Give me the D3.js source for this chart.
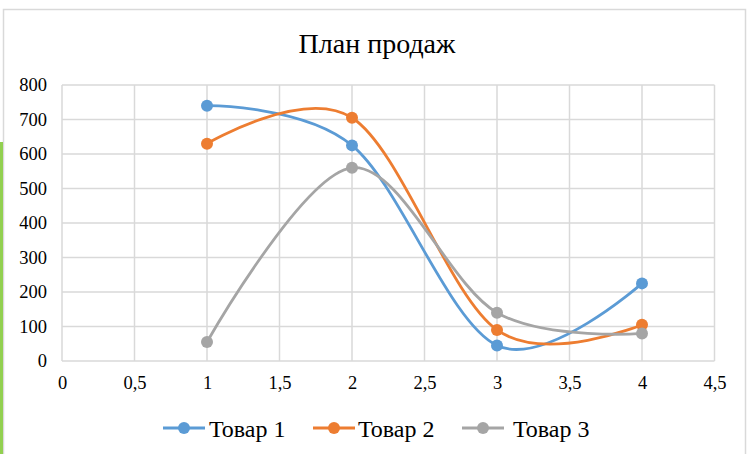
<!DOCTYPE html>
<html lang="ru">
<head>
<meta charset="UTF-8">
<title>План продаж</title>
<style>
  body { margin: 0; background: #fff; }
  svg { display: block; }
  svg text { font-family: "Liberation Serif", "Times New Roman", serif !important; fill: #000; }
</style>
</head>
<body>
<svg id="chart" width="748" height="454"></svg>
<script src="https://cdn.jsdelivr.net/npm/d3@7"></script>
<script>
// data
const xValues = [1, 2, 3, 4];
const seriesNames = ['Товар 1', 'Товар 2', 'Товар 3'];
const tovar1 = [740, 625, 45, 225];
const tovar2 = [630, 705, 90, 105];
const tovar3 = [55, 560, 140, 80];
const colors = ['#5B9BD5', '#ED7D31', '#A5A5A5'];
const xTicks = [0, 0.5, 1, 1.5, 2, 2.5, 3, 3.5, 4, 4.5];
const yTicks = [0, 100, 200, 300, 400, 500, 600, 700, 800];

const seriesValues = [tovar1, tovar2, tovar3];

const svg = d3.select('#chart');

// outer frame + green stripe at the left
svg.append('rect')
  .attr('x', 3.5).attr('y', 9.5).attr('width', 742).attr('height', 450)
  .attr('fill', '#fff').attr('stroke', '#d9d9d9').attr('stroke-width', 1.5);
svg.append('rect')
  .attr('x', 0).attr('y', 142).attr('width', 3).attr('height', 312)
  .attr('fill', '#92D050');

const x = d3.scaleLinear().domain([0, 4.5]).range([62, 714.5]);
const y = d3.scaleLinear().domain([0, 800]).range([361, 85]);

const fmt = d => String(d).replace('.', ',');

// grid
svg.append('g').selectAll('line.h')
  .data(yTicks).join('line')
  .attr('x1', x(0)).attr('x2', x(4.5))
  .attr('y1', d => y(d)).attr('y2', d => y(d))
  .attr('stroke', '#d9d9d9').attr('stroke-width', 1.5);
svg.append('g').selectAll('line.v')
  .data(xTicks).join('line')
  .attr('x1', d => x(d)).attr('x2', d => x(d))
  .attr('y1', y(0)).attr('y2', y(800))
  .attr('stroke', '#d9d9d9').attr('stroke-width', 1.5);

// axes built with d3 then restyled
const yAxis = svg.append('g')
  .attr('transform', `translate(${x(0)},0)`)
  .call(d3.axisLeft(y).tickValues(yTicks).tickSize(0).tickPadding(15));
const xAxis = svg.append('g')
  .attr('transform', `translate(0,${y(0)})`)
  .call(d3.axisBottom(x).tickValues(xTicks).tickFormat(fmt).tickSize(0).tickPadding(15));
[yAxis, xAxis].forEach(g => {
  g.select('.domain').remove();
  g.attr('font-family', null).attr('font-size', null);
  g.selectAll('text')
    .style('font-size', '18.5px')
    .style('fill', '#000');
});

// lines
const line = d3.line()
  .x((d, i) => x(xValues[i]))
  .y(d => y(d))
  .curve(d3.curveCardinal.tension(0));

seriesValues.forEach((vals, k) => {
  svg.append('path')
    .datum(vals)
    .attr('d', line)
    .attr('fill', 'none')
    .attr('stroke', colors[k])
    .attr('stroke-width', 2.8)
    .attr('stroke-linecap', 'round');
});
seriesValues.forEach((vals, k) => {
  svg.append('g').selectAll('circle')
    .data(vals).join('circle')
    .attr('cx', (d, i) => x(xValues[i]))
    .attr('cy', d => y(d))
    .attr('r', 6)
    .attr('fill', colors[k]);
});

// title
svg.append('text')
  .attr('x', 377).attr('y', 53)
  .attr('text-anchor', 'middle')
  .style('font-size', '28px')
  .text('План продаж');

// legend
const legendX = [163, 313, 462];
const legendTextX = [209, 358, 513];
seriesNames.forEach((name, k) => {
  const g = svg.append('g');
  g.append('line')
    .attr('x1', legendX[k]).attr('x2', legendX[k] + 42)
    .attr('y1', 428).attr('y2', 428)
    .attr('stroke', colors[k]).attr('stroke-width', 2.8);
  g.append('circle')
    .attr('cx', legendX[k] + 21).attr('cy', 428).attr('r', 6)
    .attr('fill', colors[k]);
  g.append('text')
    .attr('x', legendTextX[k]).attr('y', 437)
    .style('font-size', '24px')
    .text(name);
});
</script>
</body>
</html>
